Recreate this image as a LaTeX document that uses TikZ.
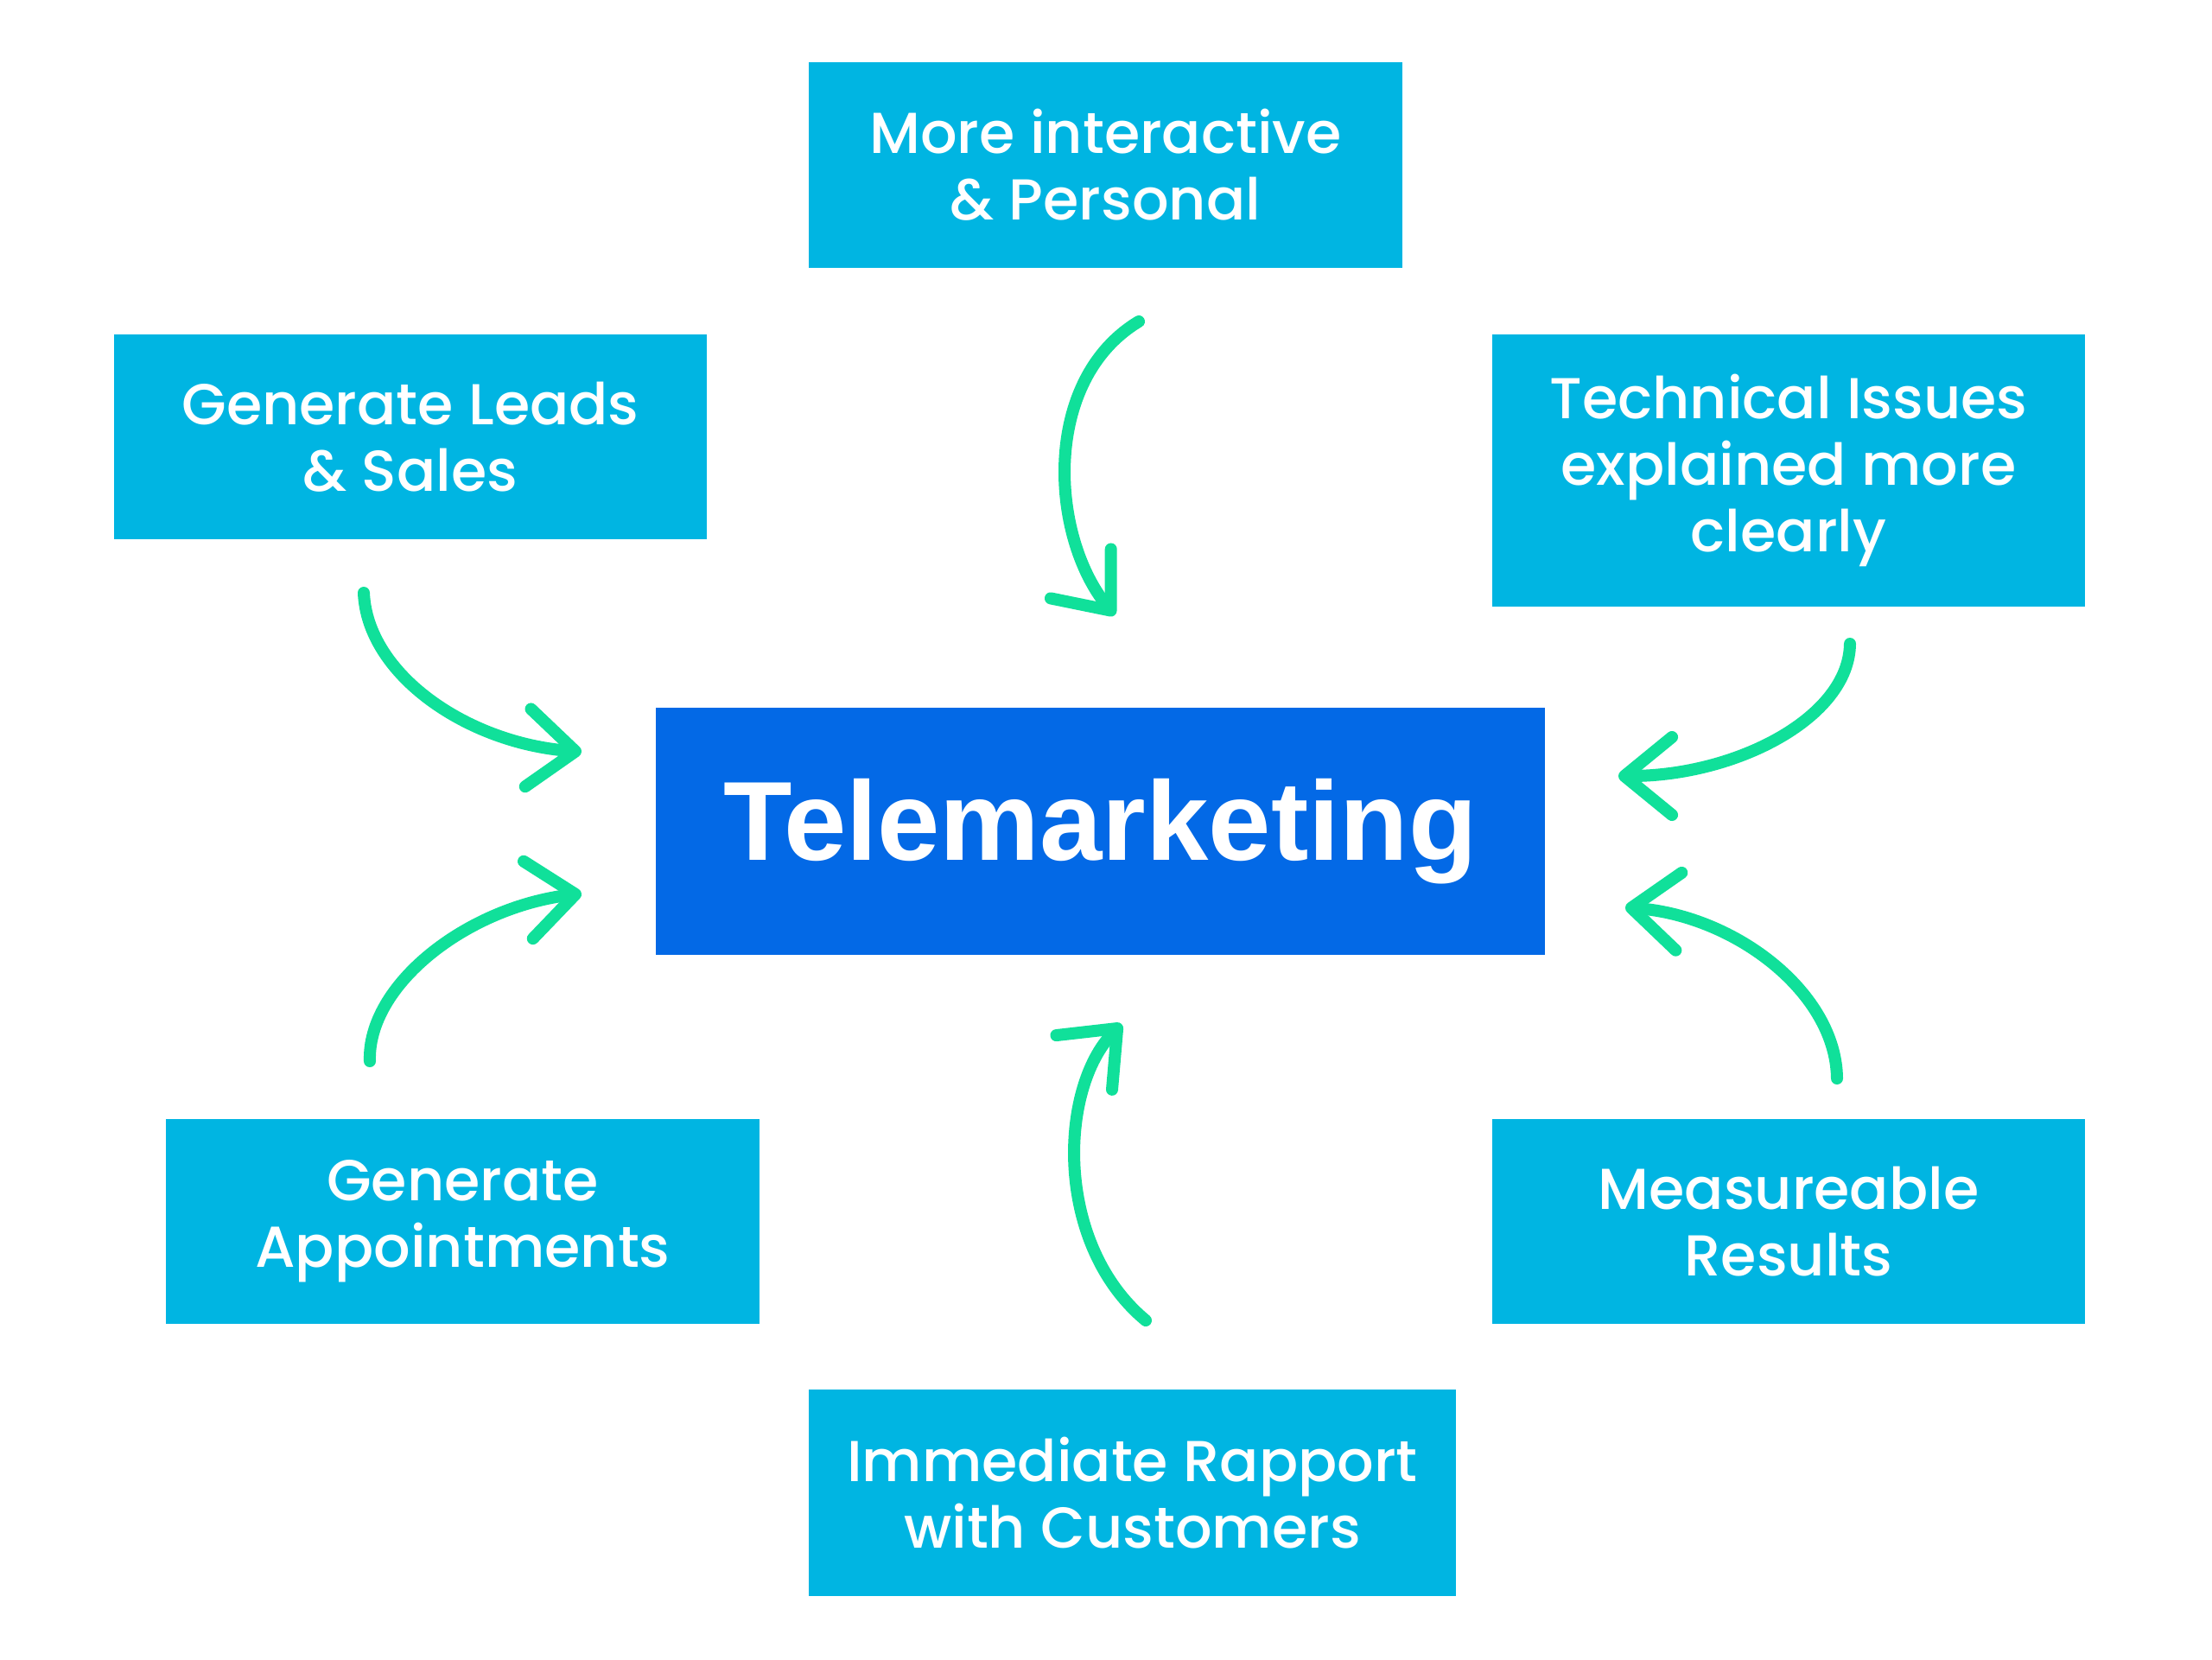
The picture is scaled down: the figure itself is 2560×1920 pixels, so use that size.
\documentclass[tikz,border=0pt]{standalone}
\usepackage{fontspec}
\setmainfont{Poppins Medium}
\newfontfamily\corefont{Liberation Sans}
\usetikzlibrary{arrows.meta}
\definecolor{featurecyan}{HTML}{00B5E2}
\definecolor{coreblue}{HTML}{0369E6}
\definecolor{arrowgreen}{HTML}{10E09A}
\tikzstyle{feature} = [rectangle, fill=featurecyan, text=white, minimum width=6.86cm, minimum height=2.37cm, inner sep=0pt, align=center, font=\fontsize{19}{22}\selectfont]
\tikzstyle{core} = [rectangle, fill=coreblue, text=white, minimum width=10.29cm, minimum height=2.86cm, inner sep=0pt, font=\corefont\bfseries\fontsize{37}{44}\selectfont]
\tikzstyle{curvearrow} = [draw=arrowgreen, line width=0.14cm, line cap=round, -{Straight Barb[length=5.5mm, width=9mm, line cap=round, line join=round]}]

\begin{document}
\begin{tikzpicture}[x=0.01cm, y=-0.01cm]
    % Fondo
    \fill[white] (0,0) rectangle (2560,1920);
    \useasboundingbox (0,0) rectangle (2560,1920);

    % Nós
    \node (core) [core] at (1273.5,962) {Telemarketing};

    \node (personal) [feature] at (1279.5,191) {More interactive\\\& Personal};
    \node (leads) [feature] at (475,505.5) {Generate Leads\\\& Sales};
    \node (technical) [feature, minimum height=3.15cm] at (2070,544.5) {Technical Issues\\explained more\\clearly};
    \node (appointments) [feature] at (535.5,1413.5) {Generate\\Appointments};
    \node (results) [feature] at (2070,1413.5) {Measureable\\Results};
    \node (rapport) [feature, minimum width=7.49cm, minimum height=2.39cm] at (1310.5,1727.5) {Immediate Rapport\\with Customers};

    % Pontas das setas
    \coordinate (personal-s) at (1318,372);
    \coordinate (personal-e) at (1290,712);
    \coordinate (leads-s) at (421,686);
    \coordinate (leads-e) at (673,870);
    \coordinate (technical-s) at (2141,745);
    \coordinate (technical-e) at (1873,898);
    \coordinate (appointments-s) at (428,1228);
    \coordinate (appointments-e) at (673,1034);
    \coordinate (results-s) at (2126,1248);
    \coordinate (results-e) at (1881,1050);
    \coordinate (rapport-s) at (1326,1528);
    \coordinate (rapport-e) at (1298,1185);

    % Conexões
    \draw [curvearrow] (personal-s) .. controls (1205,440) and (1215,620) .. (personal-e);
    \draw [curvearrow] (leads-s) .. controls (425,780) and (540,860) .. (leads-e);
    \draw [curvearrow] (technical-s) .. controls (2140,830) and (2010,898) .. (technical-e);
    \draw [curvearrow] (appointments-s) .. controls (425,1140) and (540,1050) .. (appointments-e);
    \draw [curvearrow] (results-s) .. controls (2125,1150) and (2010,1060) .. (results-e);
    \draw [curvearrow] (rapport-s) .. controls (1220,1440) and (1225,1260) .. (rapport-e);

\end{tikzpicture}
\end{document}
